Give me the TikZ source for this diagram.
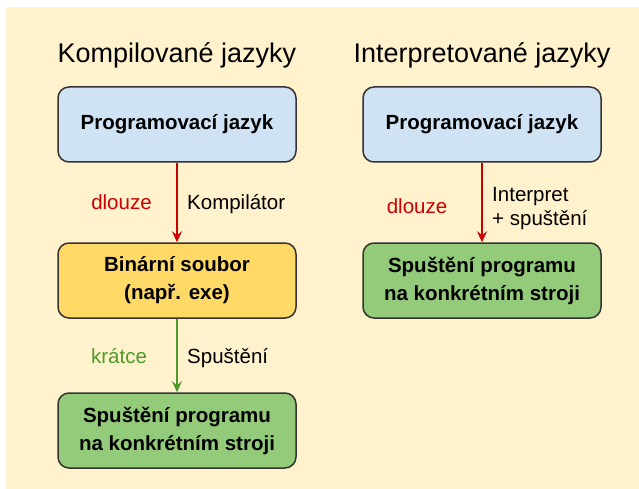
\documentclass[tikz,border=0pt]{standalone}
\usepackage{fontspec}
\setmainfont{Liberation Sans}
\usetikzlibrary{arrows.meta, positioning}

\definecolor{bgcream}{HTML}{FFF2CC}
\definecolor{boxblue}{HTML}{D0E3F5}
\definecolor{boxyellow}{HTML}{FFD966}
\definecolor{boxgreen}{HTML}{93CB7A}
\definecolor{slowred}{HTML}{CC0000}
\definecolor{fastgreen}{HTML}{4D9A2A}
\definecolor{edgegray}{HTML}{333333}

\begin{document}
\begin{tikzpicture}[x=1pt, y=-1pt,
  stagebox/.style={draw=edgegray, line width=1.5pt, rounded corners=11pt, minimum width=238pt, minimum height=75pt, align=center, font=\fontsize{20.5}{28}\selectfont\bfseries},
  heading/.style={anchor=base, inner sep=0pt, font=\fontsize{27}{32}\selectfont},
  steplabel/.style={inner sep=0pt, font=\fontsize{20.5}{24}\selectfont},
  flow/.style={line width=1.5pt, -{Stealth[length=11pt, width=10pt, inset=4pt]}}]
  % Background
  \useasboundingbox (0,0) rectangle (639,489);
  \fill[bgcream] (6,7) rectangle (639,489);

  % Headings
  \node[heading] (hcomp) at (177,63) {Kompilované jazyky};
  \node[heading] (hinterp) at (482,63) {Interpretované jazyky};

  % Compiled languages
  \node[stagebox, fill=boxblue]   (srcL) at (177,124.5) {Programovací jazyk};
  \node[stagebox, fill=boxyellow] (bin)  at (177,280.5) {Binární soubor\\(např. exe)};
  \node[stagebox, fill=boxgreen]  (runL) at (177,430.5) {Spuštění programu\\na konkrétním stroji};

  % Interpreted languages
  \node[stagebox, fill=boxblue]   (srcR) at (482,124.5) {Programovací jazyk};
  \node[stagebox, fill=boxgreen]  (runR) at (482,280.5) {Spuštění programu\\na konkrétním stroji};

  % Arrows
  \draw[flow, slowred]   (srcL) -- (bin);
  \draw[flow, fastgreen] (bin)  -- (runL);
  \draw[flow, slowred]   (srcR) -- (runR);

  % Labels
  \node[steplabel, anchor=base, text=slowred]   (slowL) at (121.5,209) {dlouze};
  \node[steplabel, anchor=base west]            (comp)  at (187,209) {Kompilátor};
  \node[steplabel, anchor=base, text=fastgreen] (fast)  at (119,363) {krátce};
  \node[steplabel, anchor=base west]            (exec)  at (187,363) {Spuštění};
  \node[steplabel, anchor=base, text=slowred]   (slowR) at (417,213) {dlouze};
  \node[steplabel, anchor=west, align=left]     (interp) at (492,208.5) {Interpret\\+ spuštění};
\end{tikzpicture}
\end{document}
